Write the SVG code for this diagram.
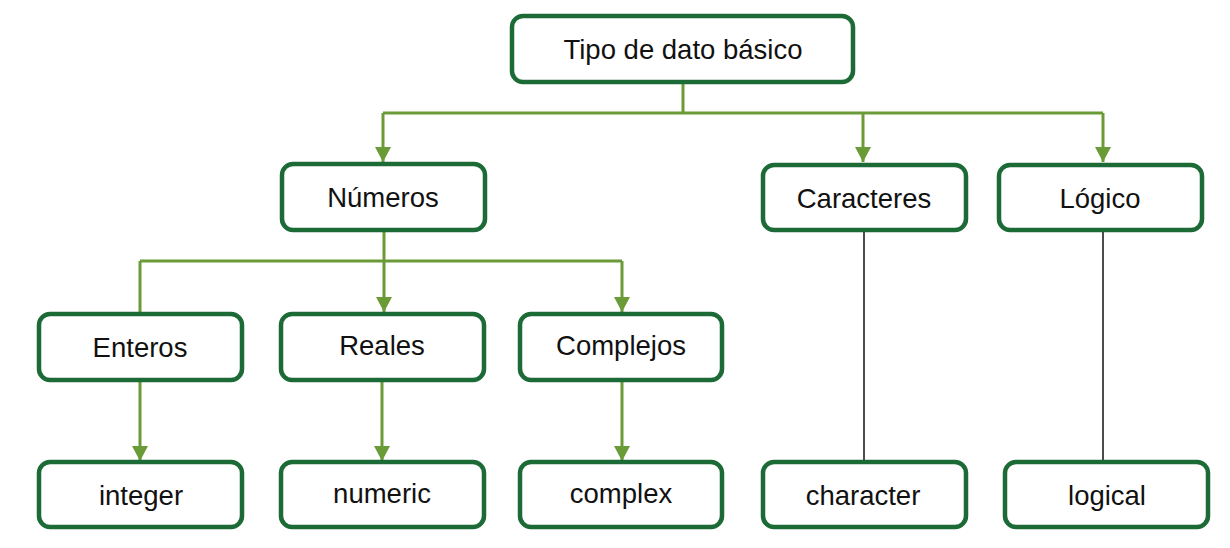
<svg xmlns="http://www.w3.org/2000/svg" width="1230" height="548" viewBox="0 0 1230 548">
<style>
.box{fill:#fff;stroke:#1c6a36;stroke-width:4.5}
.lbl{font-family:"Liberation Sans",Arial,sans-serif;font-size:27.5px;fill:#111;text-anchor:middle}
.conn{fill:none;stroke:#6b9b37;stroke-width:3}
.thin{fill:none;stroke:#111;stroke-width:1.5}
</style>
<defs>
<marker id="ah" markerUnits="userSpaceOnUse" markerWidth="16" markerHeight="16" refX="15" refY="8" orient="auto">
<path d="M0,0 L15,8 L0,16 Z" fill="#6b9b37"/>
</marker>
</defs>
<rect width="1230" height="548" fill="#fff"/>
<g id="connectors">
<path class="conn" d="M683,82 V113"/>
<path class="conn" d="M383,113 H1103"/>
<path class="conn" d="M383,113 V162" marker-end="url(#ah)"/>
<path class="conn" d="M863,113 V162" marker-end="url(#ah)"/>
<path class="conn" d="M1103,113 V162" marker-end="url(#ah)"/>
<path class="conn" d="M384,230 V261"/>
<path class="conn" d="M140,261 H622"/>
<path class="conn" d="M140,261 V312"/>
<path class="conn" d="M384,261 V312" marker-end="url(#ah)"/>
<path class="conn" d="M622,261 V312" marker-end="url(#ah)"/>
<path class="conn" d="M140,380 V461" marker-end="url(#ah)"/>
<path class="conn" d="M382,380 V461" marker-end="url(#ah)"/>
<path class="conn" d="M622,380 V461" marker-end="url(#ah)"/>
<path class="thin" d="M864,230 V462"/>
<path class="thin" d="M1103,230 V462"/>
</g>
<g id="n-tipo"><rect class="box" x="512" y="16" width="341" height="66" rx="11"/><text class="lbl" x="683" y="59">Tipo de dato básico</text></g>
<g id="n-numeros"><rect class="box" x="282" y="164" width="203" height="66" rx="11"/><text class="lbl" x="383" y="207">Números</text></g>
<g id="n-caracteres"><rect class="box" x="763" y="165" width="203" height="65" rx="11"/><text class="lbl" x="864" y="208">Caracteres</text></g>
<g id="n-logico"><rect class="box" x="999" y="165" width="203" height="65" rx="11"/><text class="lbl" x="1100" y="208">Lógico</text></g>
<g id="n-enteros"><rect class="box" x="39" y="314" width="203" height="66" rx="11"/><text class="lbl" x="140" y="357">Enteros</text></g>
<g id="n-reales"><rect class="box" x="281" y="314" width="203" height="66" rx="11"/><text class="lbl" x="382" y="355">Reales</text></g>
<g id="n-complejos"><rect class="box" x="520" y="314" width="202" height="66" rx="11"/><text class="lbl" x="621" y="355">Complejos</text></g>
<g id="n-integer"><rect class="box" x="39" y="462" width="203" height="65" rx="11"/><text class="lbl" x="141" y="505">integer</text></g>
<g id="n-numeric"><rect class="box" x="281" y="462" width="203" height="65" rx="11"/><text class="lbl" x="382" y="503">numeric</text></g>
<g id="n-complex"><rect class="box" x="520" y="462" width="202" height="65" rx="11"/><text class="lbl" x="621" y="503">complex</text></g>
<g id="n-character"><rect class="box" x="763" y="462" width="203" height="65" rx="11"/><text class="lbl" x="863" y="505">character</text></g>
<g id="n-logical"><rect class="box" x="1005" y="462" width="203" height="65" rx="11"/><text class="lbl" x="1107" y="505">logical</text></g>
</svg>
